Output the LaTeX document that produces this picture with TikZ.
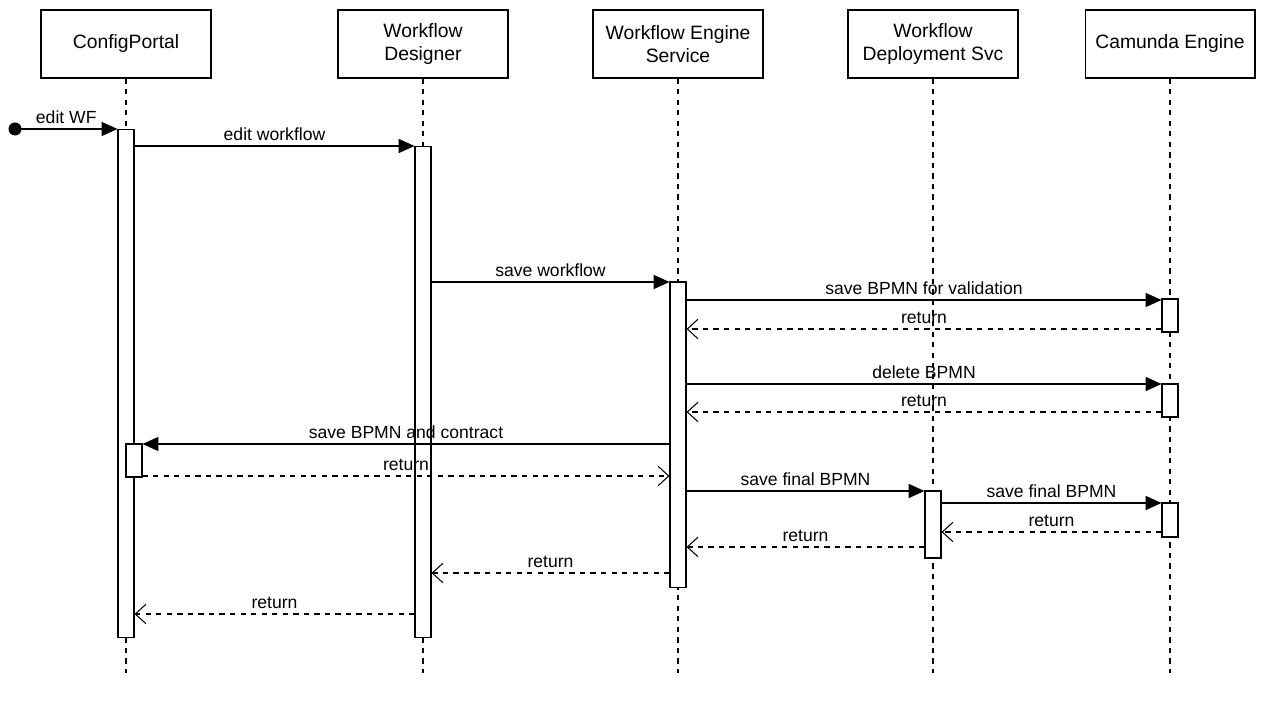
\documentclass[tikz,border=0pt]{standalone}
\usepackage{fontspec}
\setmainfont{Liberation Sans}
\usetikzlibrary{arrows.meta}
\begin{document}
\begin{tikzpicture}
        [x=0.02cm,y=-0.02cm,font=\fontsize{10}{12}\selectfont,line width=0.6pt,
         head_style/.style={draw=black,minimum width=3.4cm,minimum height=1.36cm,align=center,inner sep=0pt,font=\fontsize{11}{13}\selectfont},
         act_style/.style={draw=black,fill=white,minimum width=0.32cm,inner sep=0pt},
         life_style/.style={draw=black,dashed},
         msg_style/.style={draw=black,-{Triangle[length=9pt,width=8pt]}},
         ret_style/.style={draw=black,dashed,-{Straight Barb[length=6pt,width=11pt]}},
         lbl_style/.style={above=1.5pt,inner sep=1pt}]
            \useasboundingbox (0,0) rectangle (1265,705);
            % heads
            \node[head_style] (h1) at (126,44)  {ConfigPortal};
            \node[head_style] (h2) at (423,44)  {Workflow\\Designer};
            \node[head_style] (h3) at (678,44)  {Workflow Engine\\Service};
            \node[head_style] (h4) at (933,44)  {Workflow\\Deployment Svc};
            \node[head_style] (h5) at (1170,44) {Camunda Engine};
            % lifelines
            \foreach \h in {h1,h2,h3,h4,h5}
                \draw[life_style] (\h.south) -- ++(0,594);
            % activations
            \node[act_style,minimum height=10.18cm] (a1) at (126,383.5) {};
            \node[act_style,minimum height=0.66cm]  (a1b) at (134,460.5) {};
            \node[act_style,minimum height=9.84cm]  (a2) at (423,392) {};
            \node[act_style,minimum height=6.12cm]  (a3) at (678,435) {};
            \node[act_style,minimum height=0.66cm]  (a5) at (1170,315.5) {};
            \node[act_style,minimum height=0.66cm]  (a5b) at (1170,400.5) {};
            \node[act_style,minimum height=0.68cm]  (a5c) at (1170,520) {};
            \node[act_style,minimum height=1.34cm]  (a4) at (933,524.5) {};
            % messages
            \fill (15,129) circle (6.5);
            \coordinate (start) at (15,129);
            \draw[msg_style] (start) -- node[lbl_style,pos=0.5]{edit WF} (a1.west |- 0,129);
            \draw[msg_style] (a1.east |- 0,146) -- node[lbl_style]{edit workflow} (a2.west |- 0,146);
            \draw[msg_style] (a2.east |- 0,282) -- node[lbl_style]{save workflow} (a3.west |- 0,282);
            \draw[msg_style] (a3.east |- 0,300) -- node[lbl_style]{save BPMN for validation} (a5.west |- 0,300);
            \draw[ret_style] (a5.west |- 0,329) -- node[lbl_style]{return} (a3.east |- 0,329);
            \draw[msg_style] (a3.east |- 0,384) -- node[lbl_style]{delete BPMN} (a5b.west |- 0,384);
            \draw[ret_style] (a5b.west |- 0,412) -- node[lbl_style]{return} (a3.east |- 0,412);
            \draw[msg_style] (a3.west |- 0,444) -- node[lbl_style]{save BPMN and contract} (a1b.east |- 0,444);
            \draw[ret_style] (a1b.east |- 0,476) -- node[lbl_style]{return} (a3.west |- 0,476);
            \draw[msg_style] (a3.east |- 0,491) -- node[lbl_style]{save final BPMN} (a4.west |- 0,491);
            \draw[msg_style] (a4.east |- 0,503) -- node[lbl_style]{save final BPMN} (a5c.west |- 0,503);
            \draw[ret_style] (a5c.west |- 0,532) -- node[lbl_style]{return} (a4.east |- 0,532);
            \draw[ret_style] (a4.west |- 0,547) -- node[lbl_style]{return} (a3.east |- 0,547);
            \draw[ret_style] (a3.west |- 0,573) -- node[lbl_style]{return} (a2.east |- 0,573);
            \draw[ret_style] (a2.west |- 0,614) -- node[lbl_style]{return} (a1.east |- 0,614);
        \end{tikzpicture}
\end{document}
